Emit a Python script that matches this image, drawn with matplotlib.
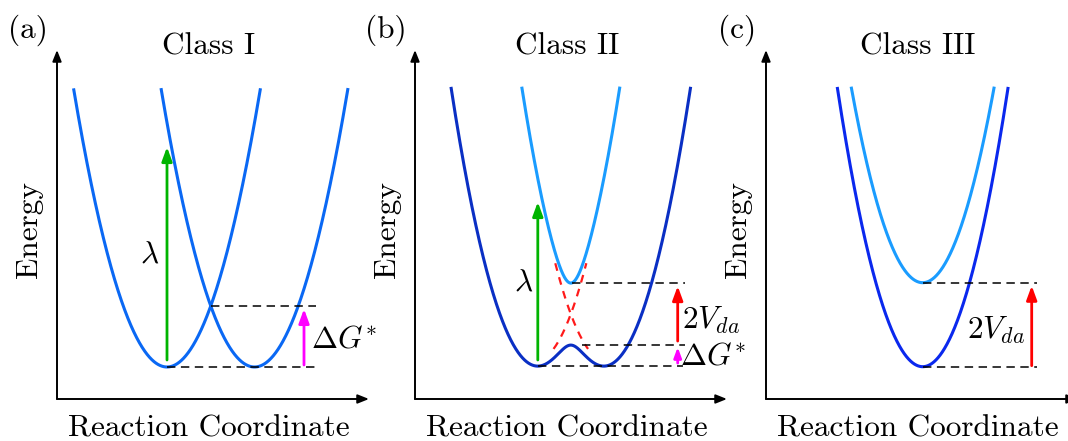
import numpy as np
import matplotlib
matplotlib.use("Agg")
import matplotlib.pyplot as plt

plt.rcParams['font.family'] = 'cmr10'
plt.rcParams['mathtext.fontset'] = 'cm'
plt.rcParams['axes.unicode_minus'] = False

FS = 22.5

# ---- common frame: reaction coordinate / energy extents (arbitrary units)
X_SPAN = 312.0
E_SPAN = 349.0
E_TOP = 311.0                       # parabolas are cut at this energy

# ---- panel (a): Class I, two uncoupled parabolas of equal depth
a_centers = [110.0, 197.5]
a_min_energy = 32.0
a_curvature = 0.0319
a_color = '#0a68f4'
a_lambda_arrow = [39.0, 252.0]      # energy from, to (at left minimum)
a_dg_x = 247.0
a_guide_end = 259.0

# ---- panel (b): Class II, weakly coupled diabatic states
b_centers = [120.8, 190.8]
b_base = 38.0
b_curvature = 0.0383
b_coupling = 31.0
b_lower_color = '#0a2fc4'
b_upper_color = '#1a9cff'
b_diabatic_window = [50.0, 136.0]
b_lambda_arrow = [39.0, 197.0]
b_arrow_x = 262.7
b_guide_end = 270.0

# ---- panel (c): Class III, fully delocalised
c_center = 156.7
c_mid_energy = 74.3
c_curvature = 0.0383
c_coupling = 42.0
c_lower_color = '#0a28ee'
c_upper_color = '#1a9cff'
c_arrow_x = 265.7
c_guide_end = 270.7

panel_tags = ['(a)', '(b)', '(c)']
panel_titles = ['Class I', 'Class II', 'Class III']

W, H = 1068, 441
fig = plt.figure(figsize=(W / 100, H / 100), dpi=100)
lefts_px = [57, 415, 766]
axes = []
for lp in lefts_px:
    ax = fig.add_axes([lp / W, (H - 399) / H, X_SPAN / W, E_SPAN / H])
    ax.set_xlim(0, X_SPAN)
    ax.set_ylim(0, E_SPAN)
    for s in ax.spines.values():
        s.set_visible(False)
    ax.set_xticks([])
    ax.set_yticks([])
    ax.patch.set_alpha(0)
    axes.append(ax)

CURVE_LW = 2.2
GUIDE = dict(color='black', lw=1.1, ls=(0, (5.5, 3.6)))


def frame(ax, tag, title):
    axis_arrow = dict(arrowstyle='-|>,head_length=0.55,head_width=0.22',
                      lw=1.4, color='black', shrinkA=0, shrinkB=0,
                      mutation_scale=12)
    ax.annotate('', xy=(0, 1), xytext=(0, 0), xycoords='axes fraction',
                arrowprops=axis_arrow, annotation_clip=False)
    ax.annotate('', xy=(1, 0), xytext=(0, 0), xycoords='axes fraction',
                arrowprops=axis_arrow, annotation_clip=False)
    ax.set_title(title, fontsize=FS, x=0.487, y=0.986, va='center')
    ax.set_xlabel('Reaction Coordinate', fontsize=FS)
    ax.xaxis.set_label_coords(0.487, -0.085)
    ax.xaxis.label.set_va('center')
    ax.set_ylabel('Energy', fontsize=FS)
    ax.yaxis.set_label_coords(-0.09, 0.487)
    ax.yaxis.label.set_va('center')
    ax.text(-0.093, 1.057, tag, transform=ax.transAxes, fontsize=FS,
            ha='center', va='center')


def arrow(ax, x, e0, e1, color, scale=14):
    ax.annotate('', xy=(x, e1), xytext=(x, e0),
                arrowprops=dict(arrowstyle='-|>,head_length=0.6,head_width=0.22',
                                lw=2.0, color=color, shrinkA=0, shrinkB=0,
                                mutation_scale=scale))


def cut(e):
    e = e.copy()
    e[e > E_TOP] = np.nan
    return e


x = np.linspace(0, X_SPAN, 4000)

# ---------------- (a)
ax = axes[0]
frame(ax, panel_tags[0], panel_titles[0])
for xc in a_centers:
    ax.plot(x, cut(a_min_energy + a_curvature * (x - xc) ** 2),
            color=a_color, lw=CURVE_LW, solid_capstyle='butt')
x_cross = np.mean(a_centers)
e_cross = a_min_energy + a_curvature * ((a_centers[1] - a_centers[0]) / 2) ** 2
ax.plot([a_centers[0], a_guide_end], [a_min_energy, a_min_energy], **GUIDE)
ax.plot([x_cross, a_guide_end], [e_cross, e_cross], **GUIDE)
arrow(ax, a_centers[0], a_lambda_arrow[0], a_lambda_arrow[1], '#00b400')
ax.text(a_centers[0] - 17, 144, r'$\lambda$', fontsize=FS, ha='center', va='center')
arrow(ax, a_dg_x, a_min_energy + 2, e_cross - 3, '#ff00ff')
ax.text(a_dg_x + 7, 59, r'$\Delta G^{*}$', fontsize=FS, ha='left', va='center')

# ---------------- (b)
ax = axes[1]
frame(ax, panel_tags[1], panel_titles[1])
ha_ = b_base + b_curvature * (x - b_centers[0]) ** 2
hb_ = b_base + b_curvature * (x - b_centers[1]) ** 2
avg = (ha_ + hb_) / 2
root = np.sqrt(((ha_ - hb_) / 2) ** 2 + b_coupling ** 2)
e_low = avg - root
e_up = avg + root
lo, hi = b_diabatic_window
mask_a = (x > b_centers[0]) & (ha_ >= lo) & (ha_ <= hi)
mask_b = (x < b_centers[1]) & (hb_ >= lo) & (hb_ <= hi)
red_dash = dict(color='#ff1a1a', lw=1.6, ls=(0, (3.5, 3.0)))
ax.plot(x[mask_a], ha_[mask_a], **red_dash)
ax.plot(x[mask_b], hb_[mask_b], **red_dash)
ax.plot(x, cut(e_up), color=b_upper_color, lw=CURVE_LW)
ax.plot(x, cut(e_low), color=b_lower_color, lw=CURVE_LW)

half = x < np.mean(b_centers)
i_min = np.argmin(np.where(half, e_low, np.inf))
x_min, e_min = x[i_min], e_low[i_min]
i_mid = np.argmin(np.abs(x - np.mean(b_centers)))
x_mid, e_barrier = x[i_mid], e_low[i_mid]
e_upper_min = e_up.min()
ax.plot([x_min, b_guide_end - 2], [e_min, e_min], **GUIDE)
ax.plot([x_mid + 11, b_guide_end], [e_barrier, e_barrier], **GUIDE)
ax.plot([x_mid + 1, b_guide_end], [e_upper_min, e_upper_min], **GUIDE)
arrow(ax, x_min, b_lambda_arrow[0], b_lambda_arrow[1], '#00b400')
ax.text(x_min - 14, 116, r'$\lambda$', fontsize=FS, ha='center', va='center')
arrow(ax, b_arrow_x, e_barrier + 4, e_upper_min - 3, '#ff0000')
arrow(ax, b_arrow_x, e_min + 3, e_barrier - 2, '#ff00ff', scale=10)
ax.text(b_arrow_x + 4, 79, r'$2V_{da}$', fontsize=FS, ha='left', va='center')
ax.text(b_arrow_x + 2, 42, r'$\Delta G^{*}$', fontsize=FS, ha='left', va='center')

# ---------------- (c)
ax = axes[2]
frame(ax, panel_tags[2], panel_titles[2])
par = c_mid_energy + c_curvature * (x - c_center) ** 2
ax.plot(x, cut(par + c_coupling), color=c_upper_color, lw=CURVE_LW)
ax.plot(x, cut(par - c_coupling), color=c_lower_color, lw=CURVE_LW)
e_lo_c = c_mid_energy - c_coupling
e_hi_c = c_mid_energy + c_coupling
ax.plot([c_center, c_guide_end], [e_lo_c, e_lo_c], **GUIDE)
ax.plot([c_center, c_guide_end], [e_hi_c, e_hi_c], **GUIDE)
arrow(ax, c_arrow_x, e_lo_c + 1, e_hi_c - 3, '#ff0000')
ax.text(c_arrow_x - 65, 69, r'$2V_{da}$', fontsize=FS, ha='left', va='center')

fig.savefig('out.png', dpi=100)
